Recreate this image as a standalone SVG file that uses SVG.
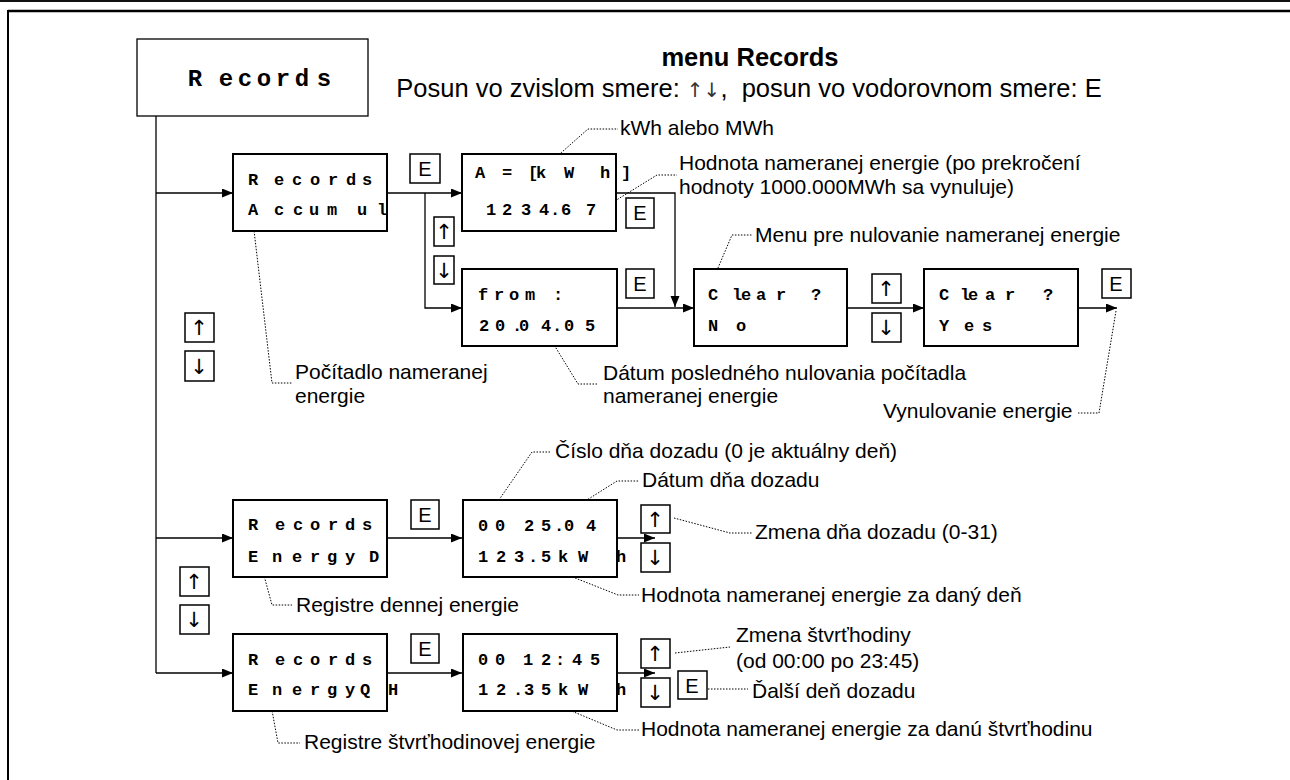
<svg xmlns="http://www.w3.org/2000/svg" width="1290" height="780" viewBox="0 0 1290 780">
<style>
.box{fill:#fff;stroke:#000;stroke-width:2}
.top{fill:#fff;stroke:#000;stroke-width:1.3}
.key{fill:#fff;stroke:#000;stroke-width:1.5}
.mono{font-family:"Liberation Mono","DejaVu Sans Mono",monospace;font-weight:bold;font-size:17px;text-anchor:middle;fill:#000}
.lbl{font-family:"Liberation Sans",Arial,sans-serif;font-size:21px;fill:#000}
.hdr{font-family:"Liberation Sans",Arial,sans-serif;font-size:25.5px;fill:#000;text-anchor:middle}
.kt{font-family:"Liberation Sans",Arial,sans-serif;font-size:20px;text-anchor:middle;fill:#000}
.ar{font-family:"DejaVu Sans",sans-serif;font-size:21px;text-anchor:middle;fill:#000}
.har{font-family:"DejaVu Sans",sans-serif;font-size:20px;font-weight:normal;fill:#333}
.lead{fill:none;stroke:#000;stroke-width:1;stroke-dasharray:1.5 1.5}
.conn{fill:none;stroke:#000;stroke-width:1.3}
</style>
<defs>
<marker id="ah" markerUnits="userSpaceOnUse" markerWidth="12" markerHeight="10" refX="11" refY="4.5" orient="auto">
<path d="M0,0 L11,4.5 L0,9 z" fill="#000"/>
</marker>
</defs>
<rect width="1290" height="780" fill="#fff"/>
<g id="frame">
<rect x="0" y="0" width="1290" height="2" fill="#111"/>
<line x1="8" y1="11" x2="1290" y2="11" stroke="#000" stroke-width="2.5"/>
<line x1="8" y1="10" x2="8" y2="780" stroke="#000" stroke-width="2"/>
</g>
<g id="header">
<text class="hdr" x="750" y="66" font-weight="bold">menu Records</text>
<text class="hdr" x="749" y="97" xml:space="preserve">Posun vo zvislom smere: <tspan class="har">↑↓</tspan>,  posun vo vodorovnom smere: E</text>
</g>
<g id="connectors">
<line class="conn" x1="156" y1="116" x2="156" y2="673" stroke="#333" stroke-width="1.6"/>
<polyline class="conn" points="156,193 233,193" marker-end="url(#ah)"/>
<polyline class="conn" points="156,538 233,538" marker-end="url(#ah)"/>
<polyline class="conn" points="156,673 233,673" marker-end="url(#ah)"/>
<polyline class="conn" points="387,193 462,193" marker-end="url(#ah)"/>
<polyline class="conn" points="425,193 425,308 462,308" marker-end="url(#ah)"/>
<polyline class="conn" points="616,193 675,193 675,307" marker-end="url(#ah)"/>
<polyline class="conn" points="617,308 694,308" marker-end="url(#ah)"/>
<polyline class="conn" points="847,308 924,308" marker-end="url(#ah)"/>
<polyline class="conn" points="1078,308 1117,308" marker-end="url(#ah)"/>
<polyline class="conn" points="387,538 462,538" marker-end="url(#ah)"/>
<polyline class="conn" points="617,538 655,538" marker-end="url(#ah)"/>
<polyline class="conn" points="387,673 462,673" marker-end="url(#ah)"/>
<polyline class="conn" points="617,673 655,673" marker-end="url(#ah)"/>
</g>
<g id="leaders">
<polyline class="lead" points="545,167 588,129 618,129"/>
<polyline class="lead" points="597,212 657,175 677,175"/>
<polyline class="lead" points="712,282 732,235 752,235"/>
<polyline class="lead" points="253,222 272,383 292,383"/>
<polyline class="lead" points="548,335 578,384 598,384"/>
<polyline class="lead" points="1116,311 1099,413 1078,413"/>
<polyline class="lead" points="492,510 532,452 551,452"/>
<polyline class="lead" points="560,517 617,481 639,481"/>
<polyline class="lead" points="674,518 730,533 752,533"/>
<polyline class="lead" points="550,568 618,595 639,595"/>
<polyline class="lead" points="262,568 272,605 292,605"/>
<polyline class="lead" points="675,653 730,647"/>
<polyline class="lead" points="708,689 748,689"/>
<polyline class="lead" points="550,702 617,730 639,730"/>
<polyline class="lead" points="271,705 278,743 300,743"/>
</g>
<g id="n-records">
<rect class="top" x="137" y="39" width="231" height="77"/>
<text class="mono" style="font-size:24px" y="86" x="195 210 226 245 264 283 302 324">R ecords</text>
</g>
<g id="n-accumul">
<rect class="box" x="233" y="154" width="154" height="77"/>
<text class="mono" y="185" x="253 266 279 297 315 333 351 367">R ecords</text>
<text class="mono" y="215" x="253 266 279 298 314 332 347 362 382">A ccum ul</text>
</g>
<g id="n-value">
<rect class="box" x="462" y="154" width="154" height="77"/>
<text class="mono" y="178" x="480 493 507 520 533 541 569 587 605 626">A = [kW h]</text>
<text class="mono" y="215" x="491 507 526 544 555 566 591">1234.67</text>
</g>
<g id="n-from">
<rect class="box" x="462" y="269" width="155" height="77"/>
<text class="mono" y="300" x="483 499 514 530 544 558">from :</text>
<text class="mono" y="331" x="484 500 517 524 546 557 569 590">20.04.05</text>
</g>
<g id="n-clear-no">
<rect class="box" x="694" y="269" width="153" height="77"/>
<text class="mono" y="300" x="713 725 737 746 761 781 798 816">C lear ?</text>
<text class="mono" y="331" x="713 727 741">N o</text>
</g>
<g id="n-clear-yes">
<rect class="box" x="924" y="269" width="154" height="77"/>
<text class="mono" y="300" x="944 955 965 973 990 1010 1029 1048">C lear ?</text>
<text class="mono" y="331" x="944 956 969 987">Y es</text>
</g>
<g id="n-energyd">
<rect class="box" x="233" y="500" width="154" height="77"/>
<text class="mono" y="530" x="253 266 280 298 315 333 350 367">R ecords</text>
<text class="mono" y="562" x="253 265 277 297 315 332 350 362 374">E nergy D</text>
</g>
<g id="n-day">
<rect class="box" x="463" y="500" width="154" height="77"/>
<text class="mono" y="531" x="483 500 514 529 546 559 569 591">00 25.04</text>
<text class="mono" y="562" x="483 501 519 533 546 563 583 602 621">123.5kW h</text>
</g>
<g id="n-energyqh">
<rect class="box" x="233" y="634" width="154" height="77"/>
<text class="mono" y="665" x="253 266 280 298 315 333 350 367">R ecords</text>
<text class="mono" y="695" x="253 265 277 297 315 332 350 365 379 393">E nergyQ H</text>
</g>
<g id="n-quarter">
<rect class="box" x="463" y="634" width="154" height="77"/>
<text class="mono" y="665" x="483 500 514 528 546 560 577 595">00 12:45</text>
<text class="mono" y="695" x="483 501 518 529 546 563 583 602 621">12.35kW h</text>
</g>
<g id="keys">
<rect class="key" x="410" y="154" width="30" height="29"/><text class="kt" x="425" y="176">E</text>
<rect class="key" x="626" y="198" width="28" height="30"/><text class="kt" x="640" y="220">E</text>
<rect class="key" x="626" y="269" width="28" height="29"/><text class="kt" x="640" y="291">E</text>
<rect class="key" x="1102" y="269" width="29" height="29"/><text class="kt" x="1116" y="291">E</text>
<rect class="key" x="411" y="500" width="28" height="29"/><text class="kt" x="425" y="522">E</text>
<rect class="key" x="411" y="634" width="28" height="29"/><text class="kt" x="425" y="656">E</text>
<rect class="key" x="678" y="671" width="29" height="28"/><text class="kt" x="692" y="693">E</text>
<rect class="key" x="434" y="217" width="20" height="29"/><text class="ar" x="444" y="239">↑</text>
<rect class="key" x="434" y="256" width="20" height="28"/><text class="ar" x="444" y="278">↓</text>
<rect class="key" x="872" y="274" width="29" height="29"/><text class="ar" x="886" y="296">↑</text>
<rect class="key" x="872" y="313" width="29" height="29"/><text class="ar" x="886" y="335">↓</text>
<rect class="key" x="185" y="313" width="29" height="29"/><text class="ar" x="199" y="335">↑</text>
<rect class="key" x="185" y="351" width="29" height="30"/><text class="ar" x="199" y="374">↓</text>
<rect class="key" x="641" y="505" width="29" height="28"/><text class="ar" x="655" y="527">↑</text>
<rect class="key" x="641" y="543" width="29" height="29"/><text class="ar" x="655" y="565">↓</text>
<rect class="key" x="180" y="567" width="29" height="29"/><text class="ar" x="194" y="589">↑</text>
<rect class="key" x="180" y="605" width="29" height="29"/><text class="ar" x="194" y="627">↓</text>
<rect class="key" x="641" y="639" width="29" height="29"/><text class="ar" x="655" y="661">↑</text>
<rect class="key" x="641" y="678" width="29" height="29"/><text class="ar" x="655" y="700">↓</text>
</g>
<g id="labels">
<text class="lbl" x="620" y="135">kWh alebo MWh</text>
<text class="lbl" x="679" y="170">Hodnota nameranej energie (po prekročení</text>
<text class="lbl" x="679" y="194">hodnoty 1000.000MWh sa vynuluje)</text>
<text class="lbl" x="755" y="242">Menu pre nulovanie nameranej energie</text>
<text class="lbl" x="295" y="379">Počítadlo nameranej</text>
<text class="lbl" x="295" y="403">energie</text>
<text class="lbl" x="603" y="380">Dátum posledného nulovania počítadla</text>
<text class="lbl" x="603" y="403">nameranej energie</text>
<text class="lbl" x="883" y="418">Vynulovanie energie</text>
<text class="lbl" x="555" y="458">Číslo dňa dozadu (0 je aktuálny deň)</text>
<text class="lbl" x="642" y="487">Dátum dňa dozadu</text>
<text class="lbl" x="755" y="539">Zmena dňa dozadu (0-31)</text>
<text class="lbl" x="641" y="602">Hodnota nameranej energie za daný deň</text>
<text class="lbl" x="296" y="612">Registre dennej energie</text>
<text class="lbl" x="736" y="642">Zmena štvrťhodiny</text>
<text class="lbl" x="736" y="668">(od 00:00 po 23:45)</text>
<text class="lbl" x="752" y="698">Ďalší deň dozadu</text>
<text class="lbl" x="641" y="736">Hodnota nameranej energie za danú štvrťhodinu</text>
<text class="lbl" x="304" y="749">Registre štvrťhodinovej energie</text>
</g>
</svg>
